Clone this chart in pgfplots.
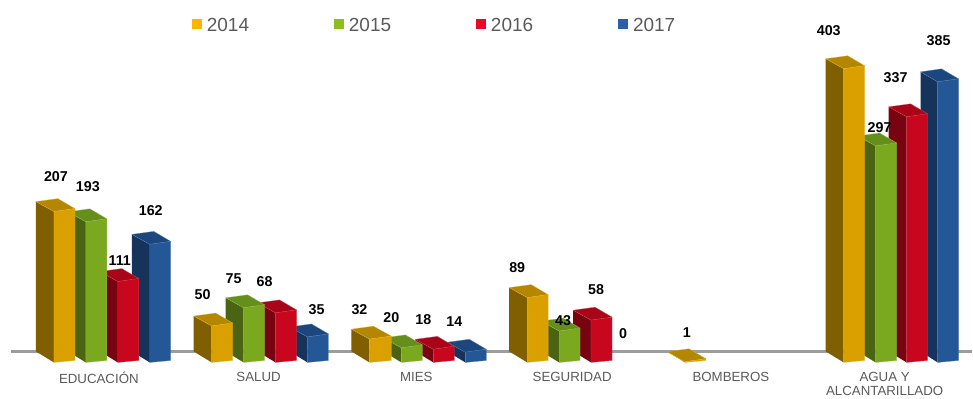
\documentclass[border=0pt]{standalone}
\usepackage{pgfplots}
\pgfplotsset{compat=1.18}
\usepackage{fontspec}
\setmainfont{Liberation Sans}
\definecolor{aF}{HTML}{D9A000}\definecolor{aS}{HTML}{7F5F00}\definecolor{aT}{HTML}{B58600}
\definecolor{bF}{HTML}{7AA81F}\definecolor{bS}{HTML}{4A6414}\definecolor{bT}{HTML}{658E1A}
\definecolor{cF}{HTML}{C8071E}\definecolor{cS}{HTML}{780412}\definecolor{cT}{HTML}{A80518}
\definecolor{dF}{HTML}{245796}\definecolor{dS}{HTML}{16335C}\definecolor{dT}{HTML}{1C477E}
\definecolor{lgA}{HTML}{FFB500}\definecolor{lgB}{HTML}{8DBE1E}\definecolor{lgC}{HTML}{E60A28}\definecolor{lgD}{HTML}{2860AC}
\definecolor{txt}{HTML}{5A5A5A}\definecolor{base}{HTML}{9C9C9C}
% side x, front left, front right, value, colour letter
\newcommand{\threedbar}[5]{%
  \pgfmathsetmacro{\tf}{#4}%
  \pgfmathsetmacro{\tr}{#4+3/.73}%
  \pgfmathsetmacro{\ts}{#4+10/.73}%
  \pgfmathsetmacro{\tb}{#4+13/.73}%
  \pgfmathsetmacro{\bx}{#2+4}%
  \pgfmathsetmacro{\br}{2/.73}%
  \pgfmathsetmacro{\bs}{11/.73}%
  \addplot[fill=#5S,draw=none,forget plot] coordinates {(#1,\ts)(#2,\tf)(#2,0)(#1,\bs)} -- cycle;
  \addplot[fill=#5T,draw=#5F!70!white,line width=.25pt,forget plot] coordinates {(#1,\ts)(\bx,\tb)(#3,\tr)(#2,\tf)} -- cycle;
  \addplot[fill=#5F,draw=#5F!80!white,line width=.25pt,forget plot] coordinates {(#2,\tf)(#3,\tr)(#3,\br)(#2,0)} -- cycle;
}
\newcommand{\lab}[3]{\node[font=\fontsize{14.3}{14}\selectfont\bfseries,text=black,inner sep=0pt] at (axis cs:#1,{(363-#2)/.73}) {#3};}
\newcommand{\cat}[3]{\node[font=\fontsize{13.3}{14.5}\selectfont,text=txt,inner sep=0pt,align=center] at (axis cs:#1,{(363-#2)/.73}) {#3};}
\begin{document}
\begin{tikzpicture}
\begin{axis}[
  scale only axis,width=973pt,height=399pt,
  xmin=0,xmax=973,ymin=-49.32,ymax=497.26,
  hide axis,clip=false,
  legend columns=4,
  legend style={at={(axis cs:192,497.26)},anchor=north west,draw=none,fill=none,yshift=-16pt,inner sep=0pt,
    font=\fontsize{19}{19}\selectfont\color{txt},
    /tikz/every odd column/.append style={column sep=3pt},
    /tikz/every even column/.append style={column sep=83pt}},
  legend cell align=left,
]
\path (axis cs:0,-49.32) -- (axis cs:973,497.26);
\addplot[line width=3pt,color=base,forget plot] coordinates {(11,14.6)(973,14.6)};
% EDUCACION
\threedbar{132}{150}{171}{162}{d}
\threedbar{100}{118}{139}{111}{c}
\threedbar{68}{86}{107}{193}{b}
\threedbar{36}{54}{75}{207}{a}
% SALUD
\threedbar{290}{308}{329}{35}{d}
\threedbar{258}{276}{297}{68}{c}
\threedbar{226}{244}{265}{75}{b}
\threedbar{194}{212}{233}{50}{a}
% MIES
\threedbar{448}{466}{487}{14}{d}
\threedbar{416}{434}{455}{18}{c}
\threedbar{384}{402}{423}{20}{b}
\threedbar{352}{370}{392}{32}{a}
% SEGURIDAD
\threedbar{574}{592}{613}{58}{c}
\threedbar{542}{560}{581}{43}{b}
\threedbar{510}{528}{549}{89}{a}
% BOMBEROS
\threedbar{668}{686}{707}{1}{a}
% AGUA
\threedbar{922}{939}{960}{385}{d}
\threedbar{890}{908}{929}{337}{c}
\threedbar{859}{877}{898}{297}{b}
\threedbar{827}{845}{866}{403}{a}
\lab{56}{177}{207}\lab{88}{187}{193}\lab{120}{261}{111}\lab{151}{211}{162}
\lab{203}{295}{50}\lab{234}{279}{75}\lab{265}{282}{68}\lab{317}{310}{35}
\lab{360}{310}{32}\lab{392}{318}{20}\lab{424}{320}{18}\lab{455}{322}{14}
\lab{518}{268}{89}\lab{564}{321}{43}\lab{597}{290}{58}\lab{624}{334}{0}
\lab{688}{333}{1}
\lab{830}{31}{403}\lab{881}{128}{297}\lab{897}{78}{337}\lab{940}{41}{385}
\cat{99}{378}{EDUCACIÓN}\cat{259}{378}{SALUD}\cat{417}{378}{MIES}\cat{573}{378}{SEGURIDAD}\cat{732}{378}{BOMBEROS}
\cat{886}{384.5}{AGUA Y\\ALCANTARILLADO}
\pgfplotsset{legend image code/.code={\fill[#1] (0pt,-3pt) rectangle (10pt,7pt);}}
\addlegendimage{fill=lgA,draw=none}\addlegendimage{fill=lgB,draw=none}
\addlegendimage{fill=lgC,draw=none}\addlegendimage{fill=lgD,draw=none}
\legend{2014,2015,2016,2017}
\end{axis}
\end{tikzpicture}
\end{document}
